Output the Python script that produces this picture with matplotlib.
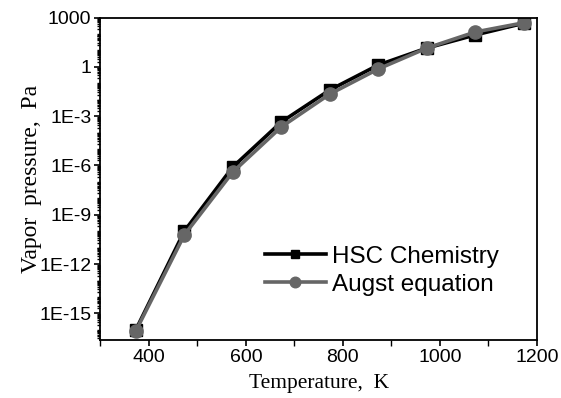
import matplotlib
matplotlib.use('Agg')
import matplotlib.pyplot as plt
import numpy as np
from matplotlib.ticker import (FixedLocator, FuncFormatter, LogLocator,
                               MultipleLocator, NullFormatter)

# Temperature (K) and vapor pressure (Pa)
temperature = [373, 473, 573, 673, 773, 873, 973, 1073, 1173]
p_hsc = [1.0e-16, 1.0e-10, 8.1e-7, 4.4e-4, 3.9e-2, 1.29, 13.8, 87, 447]
p_augst = [8.5e-17, 5.9e-11, 4.0e-7, 2.2e-4, 2.2e-2, 0.74, 13.8, 132, 479]

y_major = [1e-15, 1e-12, 1e-9, 1e-6, 1e-3, 1, 1e3]

GRAY = '#666666'

fig = plt.figure(figsize=(5.61, 3.98), dpi=100)
ax = fig.add_axes([0.179, 0.1457, 0.778, 0.8103])

ax.plot(temperature, p_hsc, color='black', lw=2.6, marker='s', ms=8,
        label='HSC Chemistry')
ax.plot(temperature, p_augst, color=GRAY, lw=2.6, marker='o', ms=9.5,
        label='Augst equation')

ax.set_yscale('log')
ax.set_xlim(300, 1200)
ax.set_ylim(10**-16.62, 1e3)

ax.xaxis.set_major_locator(MultipleLocator(200))
ax.xaxis.set_minor_locator(MultipleLocator(100))


def ylab(v, pos):
    e = int(round(np.log10(v)))
    if e >= 0:
        return f'{int(round(v))}'
    return f'1E{e}'


ax.yaxis.set_major_locator(FixedLocator(y_major))
ax.yaxis.set_major_formatter(FuncFormatter(ylab))
ax.yaxis.set_minor_locator(LogLocator(base=10, subs=np.arange(1, 10), numticks=200))
ax.yaxis.set_minor_formatter(NullFormatter())

ax.tick_params(which='major', direction='out', length=4.5, width=1.2,
               labelsize=14, pad=2)
ax.tick_params(which='minor', direction='out', length=2.5, width=1.0)
ax.tick_params(axis='x', which='minor', length=4)
for lbl in ax.get_xticklabels() + ax.get_yticklabels():
    lbl.set_family('Liberation Sans')
for sp in ax.spines.values():
    sp.set_linewidth(1.3)

ax.set_xlabel('Temperature,  K', family='Liberation Serif', fontsize=15.5,
              labelpad=6)
ax.set_ylabel('Vapor  pressure,  Pa', family='Liberation Serif', fontsize=17,
              labelpad=-2)

ax.legend(loc='center left', bbox_to_anchor=(0.377, 0.215), frameon=False,
          prop={'family': 'Liberation Sans', 'size': 17.5}, borderpad=0,
          borderaxespad=0, handlelength=2.5, handletextpad=0.25,
          labelspacing=0.25, markerscale=0.8)

fig.savefig('out.png', dpi=100)
